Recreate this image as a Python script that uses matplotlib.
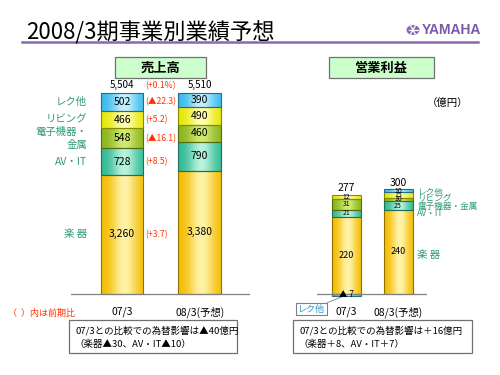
import matplotlib.pyplot as plt
import numpy as np
from matplotlib.colors import to_rgb
from matplotlib.patches import Rectangle, Circle
from matplotlib.lines import Line2D

plt.rcParams['font.family'] = ['Noto Sans CJK JP', 'DejaVu Sans']

# data
segments = ["楽 器", "AV・IT", "電子機器・\n金属", "リビング", "レク他"]
seg_short = ["楽 器", "AV・IT", "電子機器・金属", "リビング", "レク他"]
periods = ["07/3", "08/3(予想)"]
sales_07 = [3260, 728, 548, 466, 502]
sales_08 = [3380, 790, 460, 490, 390]
sales_tot = ["5,504", "5,510"]
sales_chg = ["(+3.7)", "(+8.5)", "(▲16.1)", "(+5.2)", "(▲22.3)"]
sales_tot_chg = "(+0.1%)"
op_07 = [220, 21, 31, 12, -7]
op_08 = [240, 25, 10, 15, 10]
op_tot = ["277", "300"]

# gradient colours (edge, middle) per segment
grad = [("#F4BC00", "#FFF3A8"),
        ("#2FB893", "#B8F3DE"),
        ("#8AB31C", "#D2EA72"),
        ("#E6E600", "#FFFFB4"),
        ("#35B8EC", "#C4F1FF")]
green = "#2F9A70"
red = "#FF3300"

W, H = 500, 375
fig = plt.figure(figsize=(5, 3.75), dpi=100)


def px(x, y):
    return x / W, 1 - y / H


def grad_fill(ax, rect, c_edge, c_mid):
    x0, w = rect.get_x(), rect.get_width()
    y0, h = rect.get_y(), rect.get_height()
    t = np.linspace(0, 1, 64)
    f = np.exp(-((t - 0.55) / 0.3) ** 2)
    e = np.array(to_rgb(c_edge))
    m = np.array(to_rgb(c_mid))
    img = (e[None, :] + (m - e)[None, :] * f[:, None])[None, :, :]
    im = ax.imshow(img, extent=[x0, x0 + w, min(y0, y0 + h), max(y0, y0 + h)],
                   aspect='auto', zorder=1, interpolation='bilinear')
    im.set_clip_path(rect)


def stack(ax, xpos, vals, width):
    pos, neg = 0, 0
    centers = []
    for i, v in enumerate(vals):
        if v >= 0:
            b = pos
            pos += v
        else:
            b = neg
            neg += v
        edge = tuple(np.array(to_rgb(grad[i][0])) * 0.6)
        r = ax.bar(xpos, v, width, bottom=b, facecolor='none',
                   edgecolor=edge, lw=0.8, zorder=2)[0]
        grad_fill(ax, r, *grad[i])
        centers.append(b + v / 2)
    return centers, pos


# ---------------- left: sales ----------------
s_sc = 201 / 5504  # px per unit
axL = fig.add_axes([71 / W, 71 / H, 179 / W, 240 / H])
cL07, tL07 = stack(axL, 0, sales_07, 0.55)
cL08, tL08 = stack(axL, 1, sales_08, 0.55)
for c, v in zip(cL07, sales_07):
    axL.text(0, c, f"{v:,}", ha='center', va='center', fontsize=7.5, zorder=3)
for c, v in zip(cL08, sales_08):
    axL.text(1, c, f"{v:,}", ha='center', va='center', fontsize=7.5, zorder=3)
for xx, t, lab in zip([0, 1], [tL07, tL08], sales_tot):
    axL.annotate(lab, (xx, t), xytext=(0, 2), textcoords='offset points',
                 ha='center', va='bottom', fontsize=7)
for c, lab in zip(cL07, segments):
    axL.text(-0.45, c, lab, ha='right', va='center', fontsize=7.5,
             color=green, linespacing=1.3)
for c, lab in zip(cL07, sales_chg):
    axL.text(0.3, c, lab, ha='left', va='center', fontsize=6.2, color=red)
axL.annotate(sales_tot_chg, (0.3, tL07), xytext=(0, 2), textcoords='offset points',
             ha='left', va='bottom', fontsize=6.2, color=red)
axL.axhline(0, color='#808080', lw=0.9, zorder=3)
axL.set_xlim(-0.66, 1.65)
axL.set_ylim(-10 / s_sc, 230 / s_sc)
axL.set_xticks([0, 1], periods, fontsize=7.5)
axL.tick_params(length=0, pad=2)
axL.set_yticks([])
for s in axL.spines.values():
    s.set_visible(False)
axL.patch.set_alpha(0)

# ---------------- right: operating income ----------------
o_sc = 97 / 277
axR = fig.add_axes([317 / W, 71 / H, 110 / W, 124 / H])
cR07, tR07 = stack(axR, 0, op_07, 0.56)
cR08, tR08 = stack(axR, 1, op_08, 0.56)
for c, v in zip(cR07[:4], op_07[:4]):
    axR.text(0, c, str(v), ha='center', va='center',
             fontsize=6.5 if v > 100 else 5, zorder=3)
for c, v in zip(cR08, op_08):
    axR.text(1, c, str(v), ha='center', va='center',
             fontsize=6.5 if v > 100 else 5, zorder=3)
axR.text(0, -2, "▲ " + str(-op_07[4]), ha='center', va='center', fontsize=6, zorder=4)
for xx, t, lab in zip([0, 1], [tR07, tR08], op_tot):
    axR.annotate(lab, (xx, t), xytext=(0, 1), textcoords='offset points',
                 ha='center', va='bottom', fontsize=7.5)
lab_y = [111, 229, 251, 272, 291]
for yy, lab in zip(lab_y, seg_short):
    axR.text(1.37, yy, lab, ha='left', va='center',
             fontsize=6.2 if lab != "楽 器" else 7.5,
             color=green)
axR.annotate("レク他", (0.0, -3), xytext=(-25, -10), textcoords='offset points',
             fontsize=6.5, color="#2C97C0", ha='center', va='center',
             bbox=dict(boxstyle='square,pad=0.2', fc='white', ec='#808080', lw=0.8),
             arrowprops=dict(arrowstyle='-', color='#808080', lw=0.6,
                             shrinkA=0, shrinkB=3))
axR.axhline(0, color='#808080', lw=0.9, zorder=3)
axR.set_xlim(-0.57, 1.56)
axR.set_ylim(-10 / o_sc, 114 / o_sc)
axR.set_xticks([0, 1], periods, fontsize=7.5)
axR.tick_params(length=0, pad=2)
axR.set_yticks([])
for s in axR.spines.values():
    s.set_visible(False)
axR.patch.set_alpha(0)

# ---------------- header ----------------
fig.text(*px(26, 33), "2008/3期事業別業績予想", fontsize=16, va='center', ha='left')
fig.add_artist(Line2D([22 / W, 478 / W], [1 - 41.5 / H] * 2, color='#8A68B0', lw=1.8))
cx, cy = px(413, 30)
fig.add_artist(Circle((cx, cy), 6.5 / W, transform=fig.transFigure,
                      fc='#8A66B0', ec='none'))
for a in [0, 60, 120]:
    dx = 4.5 * np.cos(np.deg2rad(a)) / W
    dy = 4.5 * np.sin(np.deg2rad(a)) / H
    fig.add_artist(Line2D([cx - dx, cx + dx], [cy - dy, cy + dy],
                          color='white', lw=0.9))
fig.text(*px(422, 30), "YAMAHA", fontsize=10, weight='bold', color='#7A58A8',
         family='Liberation Sans', va='center', ha='left')

# panel title boxes
for x0, x1, lab in [(115, 206, "売上高"), (329, 434, "営業利益")]:
    fig.add_artist(Rectangle(px(x0, 78), (x1 - x0) / W, 21 / H,
                             transform=fig.transFigure, fc='#CCFFCC',
                             ec='#707070', lw=0.9))
    fig.text(*px((x0 + x1) / 2, 67.5), lab, fontsize=9.5, weight='bold',
             ha='center', va='center')

fig.text(*px(448, 103), "（億円）", fontsize=7.5, ha='center', va='center')
fig.text(*px(8, 313), "（  ）内は前期比", fontsize=6.5, color=red, ha='left', va='center')

# comment boxes
notes = [(69, 237, "07/3との比較での為替影響は▲40億円", "（楽器▲30、AV・IT▲10）"),
         (293, 472, "07/3との比較での為替影響は＋16億円", "（楽器＋8、AV・IT＋7）")]
for x0, x1, l1, l2 in notes:
    fig.add_artist(Rectangle(px(x0, 353), (x1 - x0) / W, 33 / H,
                             transform=fig.transFigure, fc='white',
                             ec='#707070', lw=0.9))
    fig.text(*px(x0 + 7, 331), l1, fontsize=6.8, ha='left', va='center')
    fig.text(*px(x0 + 5, 344), l2, fontsize=6.8, ha='left', va='center')

fig.savefig("out.png", dpi=100)
